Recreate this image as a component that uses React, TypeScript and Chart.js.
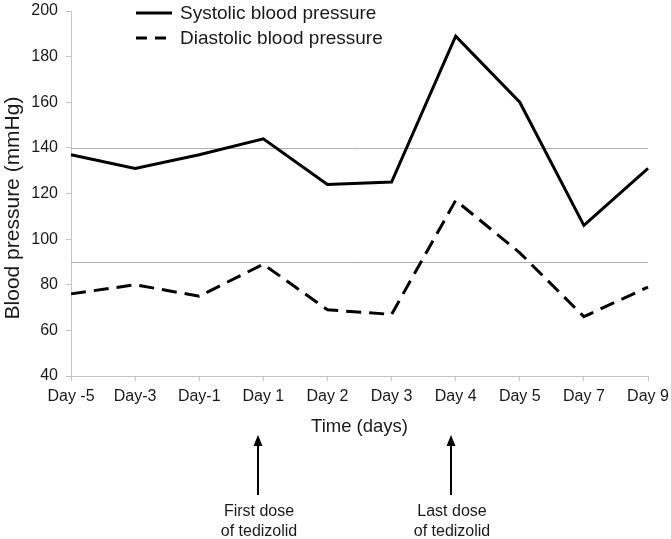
import React, { useEffect, useRef } from "react";
import { Chart, registerables } from "chart.js";

Chart.register(...registerables);

// ---- data ----
const days = ["Day -5", "Day-3", "Day-1", "Day 1", "Day 2", "Day 3", "Day 4", "Day 5", "Day 7", "Day 9"];
const systolic = [137, 131, 137, 144, 124, 125, 189, 160, 106, 131];
const diastolic = [76, 80, 75, 89, 69, 67, 117, 94, 66, 79];
const referenceLevels = [140, 90];
const yMin = 40;
const yMax = 200;
const yStep = 20;
const seriesNames = ["Systolic blood pressure", "Diastolic blood pressure"];
const yTitle = "Blood pressure (mmHg)";
const xTitle = "Time (days)";
const doseDays = ["Day 1", "Day 4"];
const doseLabels = [
  ["First dose", "of tedizolid"],
  ["Last dose", "of tedizolid"],
];

const FONT = "'Liberation Sans', Arial, Helvetica, sans-serif";
const TEXT = "#1a1a1a";
const AXIS = "#c4c4c4";

const overlayPlugin = {
  id: "overlay",
  beforeDatasetsDraw(chart: any) {
    const { ctx, chartArea } = chart;
    const y = chart.scales.y;
    ctx.save();
    ctx.strokeStyle = "#b0b0b0";
    ctx.lineWidth = 1;
    referenceLevels.forEach((v) => {
      const py = Math.round(y.getPixelForValue(v)) + 0.5;
      ctx.beginPath();
      ctx.moveTo(chartArea.left, py);
      ctx.lineTo(chartArea.right, py);
      ctx.stroke();
    });
    ctx.restore();
  },
  afterDraw(chart: any) {
    const { ctx } = chart;
    const x = chart.scales.x;
    ctx.save();

    // y-axis title
    ctx.save();
    ctx.translate(13, 208);
    ctx.rotate(-Math.PI / 2);
    ctx.font = `21px ${FONT}`;
    ctx.fillStyle = TEXT;
    ctx.textAlign = "center";
    ctx.textBaseline = "middle";
    ctx.fillText(yTitle, 0, 0);
    ctx.restore();

    // legend
    const legendY = [13, 38];
    ctx.lineWidth = 3;
    ctx.strokeStyle = "#000";
    ctx.font = `19px ${FONT}`;
    ctx.fillStyle = TEXT;
    ctx.textAlign = "left";
    ctx.textBaseline = "middle";
    seriesNames.forEach((name, i) => {
      ctx.setLineDash(i === 0 ? [] : [11, 8]);
      ctx.beginPath();
      ctx.moveTo(136, legendY[i]);
      ctx.lineTo(172, legendY[i]);
      ctx.stroke();
      ctx.fillText(name, 180, legendY[i] + 1);
    });
    ctx.setLineDash([]);

    // dose arrows
    doseDays.forEach((d, i) => {
      const px = Math.round(x.getPixelForValue(days.indexOf(d))) - 5;
      ctx.strokeStyle = "#000";
      ctx.fillStyle = "#000";
      ctx.lineWidth = 2;
      ctx.beginPath();
      ctx.moveTo(px, 495);
      ctx.lineTo(px, 443);
      ctx.stroke();
      ctx.beginPath();
      ctx.moveTo(px, 435);
      ctx.lineTo(px - 4.5, 446);
      ctx.lineTo(px + 4.5, 446);
      ctx.closePath();
      ctx.fill();
      ctx.font = `16px ${FONT}`;
      ctx.fillStyle = TEXT;
      ctx.textAlign = "center";
      ctx.textBaseline = "middle";
      ctx.fillText(doseLabels[i][0], px + 1, 512);
      ctx.fillText(doseLabels[i][1], px + 1, 532);
    });

    ctx.restore();
  },
};

export default function App() {
  const ref = useRef<HTMLCanvasElement | null>(null);

  useEffect(() => {
    if (!ref.current) return;
    const chart = new Chart(ref.current, {
      type: "line",
      data: {
        labels: days,
        datasets: [
          {
            label: seriesNames[0],
            data: systolic,
            borderColor: "#000",
            borderWidth: 3,
            pointRadius: 0,
            tension: 0,
            fill: false,
          },
          {
            label: seriesNames[1],
            data: diastolic,
            borderColor: "#000",
            borderWidth: 3,
            borderDash: [15, 8],
            pointRadius: 0,
            tension: 0,
            fill: false,
          },
        ],
      },
      options: {
        responsive: false,
        animation: false,
        devicePixelRatio: 1,
        layout: { padding: { top: 11, right: 23, bottom: 101, left: 0 } },
        plugins: {
          legend: { display: false },
          tooltip: { enabled: false },
        },
        scales: {
          x: {
            type: "category",
            offset: false,
            grid: {
              drawOnChartArea: false,
              drawTicks: true,
              tickLength: 5,
              color: AXIS,
            },
            border: { display: true, color: AXIS, width: 1 },
            ticks: {
              color: TEXT,
              font: { family: FONT, size: 16 },
              padding: 6,
              maxRotation: 0,
              autoSkip: false,
            },
            title: {
              display: true,
              text: xTitle,
              color: TEXT,
              font: { family: FONT, size: 18.5 },
              padding: 0,
            },
            afterFit(scale: any) {
              scale.height = 62;
              scale.paddingLeft = 0;
              scale.paddingRight = 0;
            },
          },
          y: {
            min: yMin,
            max: yMax,
            grid: {
              drawOnChartArea: false,
              drawTicks: true,
              tickLength: 5,
              color: AXIS,
            },
            border: { display: true, color: AXIS, width: 1 },
            ticks: {
              stepSize: yStep,
              color: TEXT,
              font: { family: FONT, size: 16 },
              padding: 8,
            },
            afterFit(scale: any) {
              scale.width = 71;
              scale.paddingTop = 0;
              scale.paddingBottom = 0;
            },
          },
        },
      },
      plugins: [overlayPlugin],
    });
    return () => chart.destroy();
  }, []);

  return (
    <div style={{ position: "fixed", left: 0, top: 0, width: 671, height: 539, background: "#fff" }}>
      <canvas ref={ref} width={671} height={539} style={{ display: "block", width: 671, height: 539 }} />
    </div>
  );
}
